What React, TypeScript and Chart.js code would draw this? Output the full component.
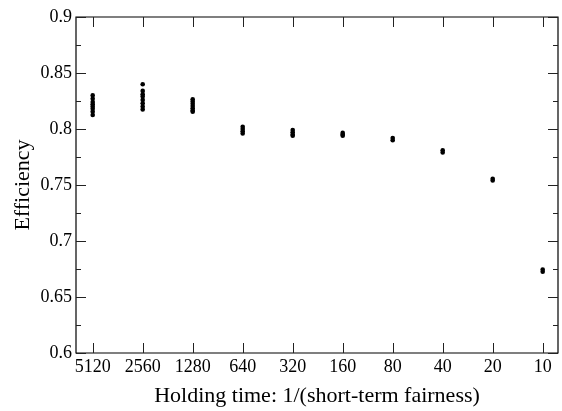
import React, { useEffect, useRef } from "react";
import { Chart, registerables } from "chart.js";

Chart.register(...registerables);

// Categories on the x axis (holding time)
const holdingTimes = ["5120", "2560", "1280", "640", "320", "160", "80", "40", "20", "10"];

// Efficiency runs per holding time
const eff5120 = [0.830, 0.827, 0.824, 0.822, 0.820, 0.818, 0.8155, 0.8125];
const eff2560 = [0.840, 0.834, 0.831, 0.829, 0.826, 0.823, 0.820, 0.8175];
const eff1280 = [0.8265, 0.8245, 0.8225, 0.8205, 0.8185, 0.8165, 0.8155];
const eff640 = [0.802, 0.800, 0.798, 0.796];
const eff320 = [0.799, 0.797, 0.795, 0.794];
const eff160 = [0.7965, 0.795, 0.794];
const eff80 = [0.792, 0.790];
const eff40 = [0.781, 0.779];
const eff20 = [0.7555, 0.754];
const eff10 = [0.6745, 0.6725];

const efficiencyRuns = [eff5120, eff2560, eff1280, eff640, eff320, eff160, eff80, eff40, eff20, eff10];

// Y tick labels
const yTicks = [0.6, 0.65, 0.7, 0.75, 0.8, 0.85, 0.9];
const yMinorTicks = [0.625, 0.675, 0.725, 0.775, 0.825, 0.875];

const xTitle = "Holding time: 1/(short-term fairness)";
const yTitle = "Efficiency";

const FONT = "'Liberation Serif', 'DejaVu Serif', serif";

const framePlugin = {
  id: "frameTicks",
  afterDatasetsDraw(chart: any) {
    const { ctx, chartArea, scales } = chart;
    const { left, right, top, bottom } = chartArea;
    const xs = scales.x;
    const ys = scales.y;
    ctx.save();
    ctx.strokeStyle = "#000";
    ctx.lineWidth = 1.2;
    ctx.beginPath();
    ctx.rect(left, top, right - left, bottom - top);
    ctx.stroke();
    ctx.lineWidth = 1;
    ctx.strokeStyle = "#222";
    ctx.beginPath();
    holdingTimes.forEach((_, i) => {
      const px = Math.round(xs.getPixelForValue(i)) + 0.5;
      ctx.moveTo(px, bottom);
      ctx.lineTo(px, bottom - 10);
      ctx.moveTo(px, top);
      ctx.lineTo(px, top + 10);
    });
    yTicks.forEach((v) => {
      const py = Math.round(ys.getPixelForValue(v)) + 0.5;
      ctx.moveTo(left, py);
      ctx.lineTo(left + 10, py);
      ctx.moveTo(right, py);
      ctx.lineTo(right - 10, py);
    });
    yMinorTicks.forEach((v) => {
      const py = Math.round(ys.getPixelForValue(v)) + 0.5;
      ctx.moveTo(left, py);
      ctx.lineTo(left + 5, py);
      ctx.moveTo(right, py);
      ctx.lineTo(right - 5, py);
    });
    ctx.stroke();
    ctx.restore();
  },
};

export default function App() {
  const canvasRef = useRef<HTMLCanvasElement | null>(null);

  useEffect(() => {
    const canvas = canvasRef.current;
    if (!canvas) return;
    const points: { x: number; y: number }[] = [];
    efficiencyRuns.forEach((runs, i) => {
      runs.forEach((v) => points.push({ x: i, y: v }));
    });
    const chart = new Chart(canvas, {
      type: "scatter",
      data: {
        datasets: [
          {
            data: points,
            backgroundColor: "#000",
            borderColor: "#000",
            borderWidth: 0,
            pointRadius: 2.3,
            pointHoverRadius: 2.3,
          },
        ],
      },
      options: {
        animation: false,
        responsive: true,
        maintainAspectRatio: false,
        layout: { padding: { top: 17, right: 4, left: 0, bottom: 0 } },
        plugins: {
          legend: { display: false },
          tooltip: { enabled: false },
        },
        scales: {
          x: {
            type: "linear",
            min: -0.334,
            max: 9.306,
            grid: { display: false, drawTicks: false },
            border: { display: false },
            afterBuildTicks: (s: any) => {
              s.ticks = holdingTimes.map((_, i) => ({ value: i }));
            },
            afterFit: (s: any) => {
              s.height = 58;
            },
            ticks: {
              autoSkip: false,
              maxRotation: 0,
              padding: 3,
              color: "#000",
              font: { family: FONT, size: 18 },
              callback: (v: any) => holdingTimes[Math.round(Number(v))] ?? "",
            },
            title: {
              display: true,
              text: xTitle,
              color: "#000",
              font: { family: FONT, size: 22 },
              padding: { top: 0, bottom: 2 },
            },
          },
          y: {
            type: "linear",
            min: 0.6,
            max: 0.9,
            grid: { display: false, drawTicks: false },
            border: { display: false },
            afterBuildTicks: (s: any) => {
              s.ticks = yTicks.map((v) => ({ value: v }));
            },
            afterFit: (s: any) => {
              s.width = 76;
            },
            ticks: {
              padding: 4,
              color: "#000",
              font: { family: FONT, size: 18 },
              callback: (v: any) => String(Number(Number(v).toFixed(2))),
            },
            title: {
              display: true,
              text: yTitle,
              color: "#000",
              font: { family: FONT, size: 22 },
              padding: { top: 10, bottom: 0 },
            },
          },
        },
      },
      plugins: [framePlugin],
    });
    return () => chart.destroy();
  }, []);

  return (
    <div style={{ position: "absolute", left: 0, top: 0, width: 562, height: 411, background: "#fff" }}>
      <canvas ref={canvasRef} />
    </div>
  );
}
